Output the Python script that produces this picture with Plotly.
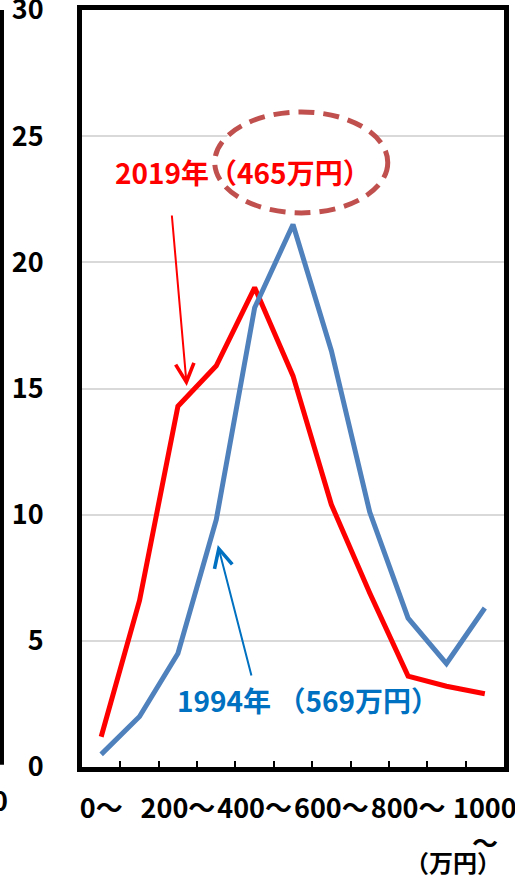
import plotly.graph_objects as go

# Income brackets (万円) and household share (%) per bracket
categories = ["0〜100", "100〜200", "200〜300", "300〜400", "400〜500",
              "500〜600", "600〜700", "700〜800", "800〜900", "900〜1000", "1000〜"]
tick_labels = ["0〜", "", "200〜", "", "400〜", "", "600〜", "", "800〜", "", "1000"]
share_2019 = [1.2, 6.6, 14.3, 15.9, 19.0, 15.5, 10.4, 6.9, 3.6, 3.2, 2.9]
share_1994 = [0.5, 2.0, 4.5, 9.8, 18.2, 21.5, 16.5, 10.1, 5.9, 4.1, 6.3]
y_ticks = [0, 5, 10, 15, 20, 25, 30]

label_2019 = "2019年（465万円）"
label_1994 = "1994年 （569万円）"
unit_label = "（万円）"

FONT = "Noto Sans CJK JP, sans-serif"
RED = "#FF0000"
BLUE_LINE = "#4F81BD"
BLUE_TEXT = "#0070C0"

fig = go.Figure()
fig.add_trace(go.Scatter(x=categories, y=share_2019, mode="lines",
                         line=dict(color=RED, width=5), showlegend=False))
fig.add_trace(go.Scatter(x=categories, y=share_1994, mode="lines",
                         line=dict(color=BLUE_LINE, width=5), showlegend=False))

tick_font = dict(family=FONT, size=27, color="black", weight="bold")

fig.update_layout(
    width=515, height=879,
    margin=dict(l=82, r=11, t=10, b=112),
    paper_bgcolor="white", plot_bgcolor="white",
    xaxis=dict(type="category", tickmode="array", tickvals=categories,
               ticktext=tick_labels, tickson="boundaries", ticks="inside",
               ticklen=6, tickwidth=1.5, tickcolor="black", tickangle=0,
               showline=True, linecolor="black", linewidth=5, mirror=True,
               showgrid=False, tickfont=tick_font, ticklabelstandoff=14,
               ticklabeloverflow="allow", automargin=False,
               range=[-0.5, 10.5]),
    yaxis=dict(range=[0, 30], tickvals=y_ticks, ticks="",
               showline=True, linecolor="black", linewidth=5, mirror=True,
               showgrid=True, gridcolor="#D9D9D9", gridwidth=1.5,
               zeroline=False, tickfont=tick_font, ticklabelstandoff=28,
               ticklabeloverflow="allow", automargin=False),
)

# Dashed ellipse highlighting the 2019 median
fig.add_shape(type="circle", xref="x", yref="y", x0=2.96, x1=7.47, y0=21.96, y1=25.96,
              line=dict(color="#C0504D", width=5, dash="16px,9px"),
              fillcolor="white", layer="above")

# Series labels with pointer arrows
fig.add_annotation(x=3.69, y=23.58, xref="x", yref="y", text=label_2019, showarrow=False,
                   xanchor="center", yanchor="middle",
                   font=dict(family=FONT, size=28, color=RED, weight="bold"))
fig.add_annotation(x=2.23, y=15.1, xref="x", yref="y", ax=-15, ay=-172, text="",
                   showarrow=True, arrowhead=5, arrowsize=1.8, arrowwidth=2, arrowcolor=RED)
fig.add_annotation(x=5.39, y=2.66, xref="x", yref="y", text=label_1994, showarrow=False,
                   xanchor="center", yanchor="middle",
                   font=dict(family=FONT, size=28, color=BLUE_TEXT, weight="bold"))
fig.add_annotation(x=3.04, y=8.8, xref="x", yref="y", ax=34, ay=132, text="",
                   showarrow=True, arrowhead=5, arrowsize=1.8, arrowwidth=2, arrowcolor=BLUE_TEXT)

# Unit label under the axis, with the wrapped "〜" of the last bracket
fig.add_annotation(x=0.878, y=-0.125, xref="paper", yref="paper", text=unit_label,
                   xanchor="center", yanchor="middle", showarrow=False,
                   font=dict(family=FONT, size=24, color="black", weight="bold"))
fig.add_annotation(x=0.955, y=-0.099, xref="paper", yref="paper", text="〜",
                   xanchor="center", yanchor="middle", showarrow=False,
                   font=dict(family=FONT, size=26, color="black", weight="bold"))

# Edge of the neighbouring panel
fig.add_shape(type="line", xref="paper", yref="paper", x0=-0.1896, x1=-0.1896,
              y0=0.003, y1=1.0, line=dict(color="black", width=4))
fig.add_annotation(x=-0.1706, y=-0.0423, xref="paper", yref="paper", text="0",
                   xanchor="right", yanchor="middle", showarrow=False, font=tick_font)

fig.write_html("out.html")
